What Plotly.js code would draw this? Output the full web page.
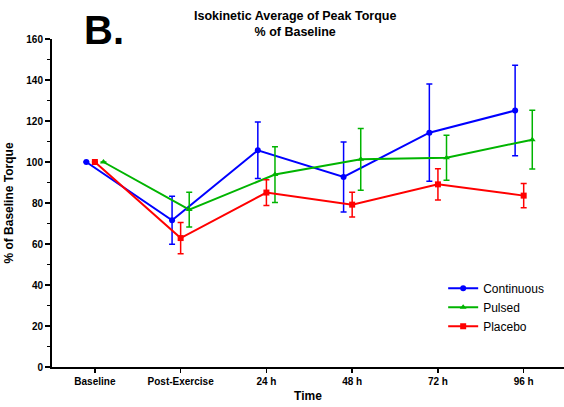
<!DOCTYPE html>
<html>
<head>
<meta charset="utf-8">
<script src="https://cdn.plot.ly/plotly-3.0.1.min.js"></script>
<style>
  html, body { margin: 0; padding: 0; background: #fff; }
  #chart { width: 564px; height: 407px; }
</style>
</head>
<body>
<div id="chart"></div>
<script>
// time points
var timepoints = ['Baseline', 'Post-Exercise', '24 h', '48 h', '72 h', '96 h'];

// % of baseline torque, mean and error (SD)
var continuous    = [100, 71.6, 105.7, 92.7, 114.3, 125.1];
var continuousErr = [0, 11.7, 13.8, 17.1, 23.7, 22.1];
var pulsed        = [100, 76.8, 93.9, 101.3, 102.1, 110.9];
var pulsedErr     = [0, 8.5, 13.6, 15.1, 11.0, 14.3];
var placebo       = [100, 62.9, 85.1, 79.2, 89.1, 83.6];
var placeboErr    = [0, 7.6, 6.3, 6.0, 7.6, 5.9];

var FONT = 'Arial, "Liberation Sans", sans-serif';

function series(name, vals, errs, color, symbol, size, shift) {
  return {
    type: 'scatter',
    mode: 'lines+markers',
    name: name,
    x: vals.map(function (v, i) { return i + shift; }),
    y: vals,
    line: {color: color, width: 2},
    marker: {color: color, symbol: symbol, size: size},
    error_y: {type: 'data', array: errs, visible: true, color: color, thickness: 1.5, width: 3}
  };
}

var traces = [
  series('Continuous', continuous, continuousErr, '#0000ff', 'circle', 6, -0.1),
  series('Pulsed', pulsed, pulsedErr, '#00b400', 'triangle-up', 6, 0.1),
  series('Placebo', placebo, placeboErr, '#ff0000', 'square', 6, 0)
];

var layout = {
  width: 564,
  height: 407,
  margin: {l: 52, r: 0, t: 39, b: 40},
  paper_bgcolor: '#fff',
  plot_bgcolor: '#fff',
  font: {family: FONT, color: '#000', size: 11},
  showlegend: true,
  legend: {
    x: 0.764, y: 0.284, xanchor: 'left', yanchor: 'top',
    font: {family: FONT, size: 12, color: '#000'},
    bgcolor: 'rgba(0,0,0,0)', itemwidth: 30, tracegroupgap: 0
  },
  annotations: [{
    text: 'Isokinetic Average of Peak Torque<br>% of Baseline',
    xref: 'paper', yref: 'paper', x: 0.474, y: 1, yshift: -2,
    xanchor: 'center', yanchor: 'bottom', showarrow: false,
    font: {family: FONT, size: 12.5, color: '#000', weight: 'bold'}
  }, {
    text: 'B.', xref: 'paper', yref: 'paper', x: 0.102, y: 1.027,
    xanchor: 'center', yanchor: 'middle', showarrow: false,
    font: {family: FONT, size: 40, color: '#000', weight: 'bold'}
  }],
  xaxis: {
    range: [-0.5, 5.47],
    tickmode: 'array',
    tickvals: timepoints.map(function (t, i) { return i; }),
    ticktext: timepoints,
    ticks: 'outside', ticklen: 4, tickwidth: 1.5, tickcolor: '#000',
    showline: true, linecolor: '#000', linewidth: 2,
    showgrid: false, zeroline: false,
    tickfont: {family: FONT, size: 10, color: '#000', weight: 'bold'},
    title: {text: 'Time', standoff: 6, font: {family: FONT, size: 12, color: '#000', weight: 'bold'}}
  },
  yaxis: {
    range: [0, 160],
    dtick: 20,
    ticks: 'outside', ticklen: 5, tickwidth: 1.5, tickcolor: '#000',
    minor: {dtick: 10, ticks: 'outside', ticklen: 3, tickwidth: 1.5, tickcolor: '#000', showgrid: false},
    showline: true, linecolor: '#000', linewidth: 2,
    showgrid: false, zeroline: false,
    tickfont: {family: FONT, size: 10, color: '#000', weight: 'bold'},
    title: {text: '% of Baseline Torque', standoff: 10, font: {family: FONT, size: 12, color: '#000', weight: 'bold'}}
  }
};

Plotly.newPlot('chart', traces, layout, {displayModeBar: false, staticPlot: true});
</script>
</body>
</html>
